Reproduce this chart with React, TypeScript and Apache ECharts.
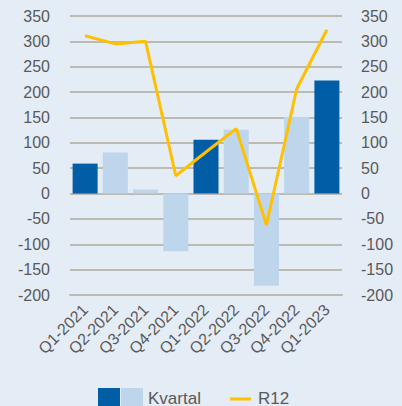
import React, { useEffect, useRef } from "react";
import * as echarts from "echarts";

const categories = ["Q1-2021", "Q2-2021", "Q3-2021", "Q4-2021", "Q1-2022", "Q2-2022", "Q3-2022", "Q4-2022", "Q1-2023"];
const kvartal = [59, 81, 8, -114, 106, 126, -182, 151, 223];
const r12 = [311, 295, 300, 35, 82, 128, -62, 206, 323];
const darkIdx = [0, 4, 8];

const DARK = "#005DA6";
const LIGHT = "#BDD6EB";
const YELLOW = "#FFC000";
const BG = "#E4ECF6";
const TXT = "#595959";
const GRID = "#BDB9B3";
const FONT = "Liberation Sans, Arial, sans-serif";

export default function App() {
  const ref = useRef<HTMLDivElement>(null);
  useEffect(() => {
    document.body.style.margin = "0";
    document.body.style.background = BG;
    const chart = echarts.init(ref.current!, null, { renderer: "svg" });
    const yAxisBase = {
      type: "value" as const,
      min: -200,
      max: 350,
      interval: 50,
      axisLine: { show: false },
      axisTick: { show: false },
      axisLabel: { color: TXT, fontSize: 16, fontFamily: FONT },
    };
    chart.setOption({
      animation: false,
      backgroundColor: BG,
      grid: { left: 70, right: 60, top: 16, bottom: 111 },
      xAxis: {
        type: "category",
        data: categories,
        position: "bottom",
        axisLine: { onZero: false, lineStyle: { color: GRID, width: 2 } },
        axisTick: { length: 12, lineStyle: { color: GRID, width: 2 } },
        axisLabel: { rotate: 45, interval: 0, color: TXT, fontSize: 16, fontFamily: FONT, margin: 12 },
      },
      yAxis: [
        {
          ...yAxisBase,
          position: "left",
          axisLabel: { ...yAxisBase.axisLabel, margin: 20 },
          splitLine: { lineStyle: { color: GRID, width: 2 } },
        },
        {
          ...yAxisBase,
          position: "right",
          axisLabel: { ...yAxisBase.axisLabel, margin: 19 },
          splitLine: { show: false },
        },
      ],
      series: [
        {
          name: "Kvartal",
          type: "bar",
          barWidth: 25,
          data: kvartal.map((v, i) => ({
            value: v,
            itemStyle: { color: darkIdx.includes(i) ? DARK : LIGHT },
          })),
        },
        {
          name: "R12",
          type: "line",
          data: r12,
          symbol: "none",
          lineStyle: { color: YELLOW, width: 3 },
          itemStyle: { color: YELLOW },
        },
      ],
      graphic: [
        { type: "rect", shape: { x: 98, y: 388, width: 22, height: 22 }, style: { fill: DARK } },
        { type: "rect", shape: { x: 121, y: 388, width: 22, height: 22 }, style: { fill: LIGHT } },
        {
          type: "text",
          x: 148,
          y: 398,
          style: { text: "Kvartal", fill: TXT, fontSize: 17, fontFamily: FONT, verticalAlign: "middle" },
        },
        { type: "line", shape: { x1: 230, y1: 399, x2: 251, y2: 399 }, style: { stroke: YELLOW, lineWidth: 3 } },
        {
          type: "text",
          x: 258,
          y: 398,
          style: { text: "R12", fill: TXT, fontSize: 17, fontFamily: FONT, verticalAlign: "middle" },
        },
      ],
    });
    return () => chart.dispose();
  }, []);
  return <div ref={ref} style={{ width: 402, height: 406, background: BG }} />;
}
